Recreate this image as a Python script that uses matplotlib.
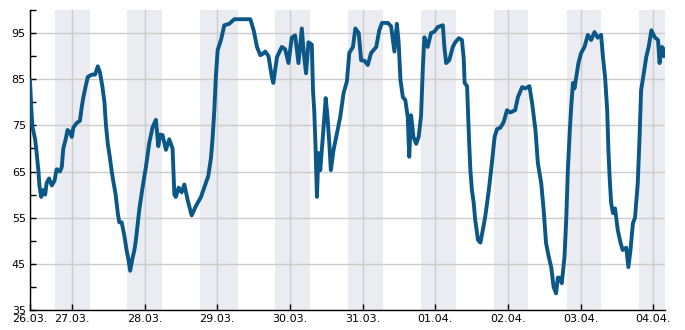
import numpy as np
import pandas as pd
import matplotlib
matplotlib.use("Agg")
import matplotlib.pyplot as plt

# hours since 26.03. 00:00 and relative humidity (%)
hours = [
    10.1, 10.5, 10.9, 11.8, 12.3, 12.9, 13.2, 13.8, 14.5, 15.1, 15.6, 16.4, 17.3, 18.2, 18.9,
    20.0, 20.6, 21.1, 21.9, 22.5, 23.3, 23.9, 24.4, 25.5, 26.6, 27.2, 27.7, 28.5, 29.2, 30.5,
    31.6, 32.5, 33.2, 34.0, 34.7, 35.2, 35.8, 36.5, 37.1, 37.6, 38.4, 39.1, 39.6, 40.4, 41.3,
    42.0, 42.6, 43.2, 43.9, 44.6, 45.1, 46.2, 47.3, 48.4, 49.5, 50.6, 51.7, 52.5, 53.1, 53.9,
    55.0, 56.1, 57.2, 57.8, 58.3, 59.2, 60.2, 61.1, 62.2, 63.5, 64.9, 66.6, 67.7, 69.0, 69.9,
    70.4, 71.0, 71.5, 72.1, 73.2, 74.3, 75.9, 77.6, 80.2, 82.9, 84.0, 85.1, 86.2, 87.0, 87.8,
    88.9, 90.0, 90.5, 91.7, 93.3, 94.4, 95.5, 96.6, 97.7, 98.8, 99.9, 100.5, 101.3, 102.1, 103.2,
    103.6, 104.0, 104.4, 104.9, 105.4, 106.0, 106.5, 107.1, 107.8, 108.4, 109.0, 109.5, 110.4, 111.5, 112.6,
    113.7, 114.8, 115.6, 116.8, 117.6, 118.7, 119.5, 120.6, 121.7, 122.8, 124.5, 125.5, 126.4, 128.3, 129.4,
    130.5, 131.3, 131.9, 132.5, 133.3, 134.1, 134.9, 135.4, 136.0, 136.8, 137.7, 138.5, 139.3, 139.9, 140.4,
    141.5, 142.6, 143.7, 144.8, 146.5, 147.0, 147.6, 148.6, 149.8, 150.6, 151.8, 152.8, 153.4, 153.7, 154.5,
    154.8, 155.2, 155.6, 156.1, 156.7, 157.2, 158.1, 158.9, 159.7, 160.5, 161.7, 162.7, 163.6, 164.4, 165.5,
    166.6, 167.7, 168.8, 170.4, 171.3, 172.7, 173.7, 175.1, 176.0, 177.1, 177.9, 179.0, 179.8, 180.6, 181.5,
    182.3, 183.1, 183.9, 184.5, 185.1, 185.8, 186.7, 187.3, 187.8, 188.4, 188.9, 189.5, 190.0, 190.6, 191.3,
    192.2, 193.3, 194.4, 195.5, 196.6, 197.7, 198.8, 199.4, 200.1, 200.8, 201.2, 201.6, 202.1, 202.7, 203.4,
    204.3, 205.2, 205.9, 207.1, 207.8, 208.5, 209.3, 210.0, 210.9, 211.5, 212.0, 212.9, 213.7, 214.5, 215.4,
    216.5, 217.6, 218.1, 218.9, 219.5, 219.9,
]
humidity = [
    84.8, 79.0, 74.7, 72.0, 69.0, 65.0, 62.0, 59.5, 61.0, 60.0, 62.5, 63.5, 62.0, 63.0, 65.5,
    65.0, 66.0, 70.0, 72.0, 74.0, 73.5, 72.5, 74.5, 75.5, 76.0, 79.0, 81.0, 83.5, 85.5, 86.0,
    86.0, 87.8, 86.5, 83.5, 80.0, 75.0, 71.0, 68.0, 65.0, 63.0, 60.0, 56.0, 54.0, 54.0, 51.0,
    48.0, 46.0, 43.5, 46.0, 48.0, 50.2, 56.7, 61.6, 66.0, 71.2, 74.6, 76.2, 70.5, 73.0, 72.9,
    69.7, 72.0, 70.0, 60.0, 59.5, 61.5, 60.5, 62.2, 58.8, 55.5, 57.5, 59.5, 61.6, 64.0, 68.0,
    72.0, 78.3, 85.5, 91.3, 93.5, 96.7, 97.0, 98.0, 98.0, 98.0, 95.6, 92.0, 90.2, 90.5, 91.0,
    90.0, 85.5, 84.2, 89.8, 92.0, 91.5, 88.5, 94.0, 94.5, 88.5, 96.0, 91.0, 86.3, 93.0, 92.5,
    82.6, 78.3, 71.2, 59.5, 69.0, 65.3, 69.5, 74.6, 80.9, 76.8, 71.0, 65.3, 69.7, 73.3, 76.8,
    82.0, 84.5, 90.7, 92.0, 96.0, 95.0, 89.1, 89.0, 88.1, 90.7, 92.0, 95.6, 97.2, 97.2, 96.5,
    91.0, 97.0, 93.0, 84.8, 81.1, 80.5, 76.8, 68.2, 77.2, 72.5, 71.0, 72.5, 77.0, 87.6, 94.1,
    92.0, 95.0, 95.3, 96.3, 96.7, 92.0, 88.5, 89.1, 92.0, 93.0, 93.9, 93.5, 89.5, 84.2, 83.5,
    78.3, 71.2, 65.3, 61.0, 58.2, 54.5, 50.2, 49.6, 52.3, 55.2, 61.0, 66.8, 72.5, 74.2, 74.5,
    75.7, 78.3, 77.8, 78.3, 81.1, 83.3, 83.0, 83.5, 79.8, 74.0, 66.8, 62.5, 56.7, 49.5, 46.5,
    44.3, 40.0, 38.6, 42.0, 42.0, 40.8, 46.5, 55.2, 65.3, 73.3, 79.0, 84.2, 83.0, 85.5, 88.5,
    90.7, 92.0, 94.6, 93.5, 95.2, 94.0, 94.6, 89.8, 85.5, 78.3, 69.7, 63.8, 58.2, 56.0, 57.0,
    52.3, 49.6, 48.0, 48.5, 44.3, 48.0, 53.8, 55.0, 62.5, 72.5, 82.6, 86.3, 89.8, 92.0, 95.6,
    94.1, 93.5, 88.5, 92.0, 90.0, 91.5,
]

# night shading: start hour of day (evening) and end hour of the following morning
night_start = [18.2, 18.3, 18.4, 19.1, 19.1, 19.3, 19.4, 19.5, 19.3]
night_end = [6.0, 5.7, 6.9, 6.7, 6.7, 6.9, 6.6, 6.6, 6.6]

day0 = pd.Timestamp("2024-03-26")
t = day0 + pd.to_timedelta(hours, unit="h")

fig = plt.figure(figsize=(6.85, 3.3), dpi=100)
ax = fig.add_axes([30 / 685, 20 / 330, 635 / 685, 300 / 330])

for i, (s, e) in enumerate(zip(night_start, night_end)):
    start = day0 + pd.Timedelta(days=i) + pd.to_timedelta(s, unit="h")
    end = day0 + pd.Timedelta(days=i + 1) + pd.to_timedelta(e, unit="h")
    ax.axvspan(start, end, color="#ebecf1", lw=0, zorder=0)

ax.plot(t, humidity, color="#0b5788", lw=2.8, zorder=3)

ax.set_xlim(t[0], t[-1])
ax.set_ylim(35, 100)

# first tick sits at the start of the data, the rest at midnight
ticks = [t[0]] + list(pd.date_range("2024-03-27", "2024-04-04", freq="D"))
ax.set_xticks(ticks)
ax.set_xticklabels([d.strftime("%d.%m.") for d in ticks])
ax.set_yticks(np.arange(35, 100, 10))
ax.set_yticks(np.arange(40, 101, 10), minor=True)

ax.grid(True, which="major", color="#cccccc", lw=1)
ax.set_axisbelow(True)
ax.tick_params(axis="both", which="both", direction="in", length=4, width=1,
               labelsize=8, color="black", pad=3)

for side in ["top", "right"]:
    ax.spines[side].set_visible(False)
for side in ["left", "bottom"]:
    ax.spines[side].set_color("black")
    ax.spines[side].set_linewidth(1)

fig.savefig("out.png", dpi=100)
